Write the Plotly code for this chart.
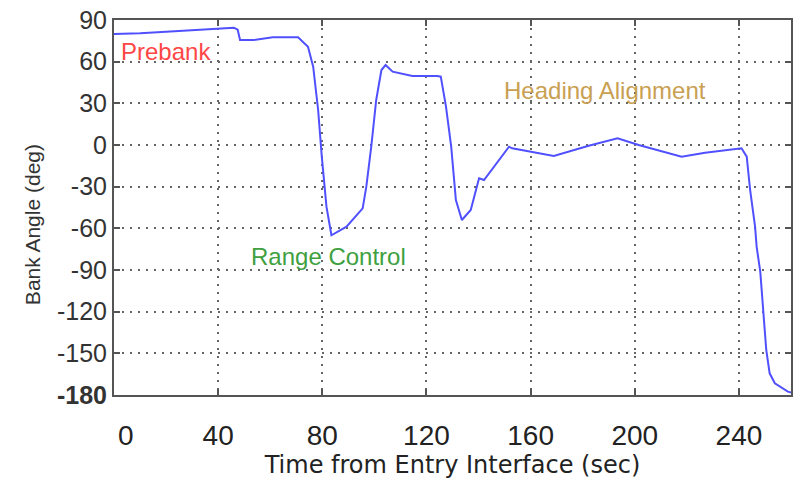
import plotly.graph_objects as go

# Bank angle profile during entry
time_s = [0, 10, 20, 32, 41.5, 46, 47.5, 48.4, 53.5, 61, 70.7, 74.5, 76.5, 78.4, 79.8,
          81.6, 83.5, 89.3, 95.5, 96.9, 98.8, 100.7, 102.7, 104.3, 107, 114.6, 124.2,
          125.5, 127.5, 129.5, 131.3, 133.6, 137, 140.2, 142.1, 151.7, 152.9, 168.9,
          182.3, 193.4, 201.5, 218, 227, 241, 243, 244.3, 246.2, 246.8, 248.2, 249.3,
          250.5, 251.8, 253.8, 258.8, 260.5]
bank_deg = [80, 80.5, 81.6, 83, 84, 84.5, 83, 75.6, 75.6, 77.5, 77.5, 70.8, 56.4, 25.2, -8.4,
            -44.4, -65, -58.8, -45.6, -30, -1.2, 32.4, 54, 57.6, 52.8, 49.7, 49.7,
            49.2, 27.6, -1.2, -39.6, -54, -46.8, -24, -25.2, -1.2, -2.4, -7.9,
            -0.5, 4.8, 0, -8.4, -5.5, -2.4, -8.4, -32.4, -58.8, -73.2, -91.2, -121.2,
            -147.6, -164.4, -171.6, -177.6, -178.5]

x_ticks = [0, 40, 80, 120, 160, 200, 240]
x_tick_text = ["\u00a0\u00a0\u00a00", "40", "80", "120", "160", "200", "240"]
y_ticks = [90, 60, 30, 0, -30, -60, -90, -120, -150, -180]
y_tick_text = ["90", "60", "30", "0", "-30", "-60", "-90", "-120", "-150", "<b>-180</b>"]

phase_labels = ["Prebank", "Range Control", "Heading Alignment"]
phase_x = [20, 82.5, 188.5]
phase_y = [67.5, -80.5, 39.5]
phase_colors = ["#ff4646", "#40a040", "#c9a052"]

SANS = "Liberation Sans, Arial, sans-serif"

fig = go.Figure()
fig.add_trace(go.Scatter(x=time_s, y=bank_deg, mode="lines",
                         line=dict(color="#5050ff", width=2), showlegend=False))

for txt, px, py, col in zip(phase_labels, phase_x, phase_y, phase_colors):
    fig.add_annotation(x=px, y=py, text=txt, showarrow=False,
                       font=dict(family=SANS, size=24, color=col))

# y-axis title placed as a rotated annotation
fig.add_annotation(xref="paper", yref="paper", x=0, y=0.453, xshift=-82,
                   text="Bank Angle (deg)", textangle=-90, showarrow=False,
                   xanchor="center", yanchor="middle",
                   font=dict(family=SANS, size=21, color="#333333"))

axis_common = dict(
    showline=True, linecolor="#555555", linewidth=2,
    ticks="inside", ticklen=6, tickwidth=2, tickcolor="#555555",
    mirror="ticks",
    showgrid=True, gridcolor="#666666", gridwidth=1.6, griddash="2px,6px",
    zeroline=False,
)

fig.update_xaxes(range=[0, 260], tickvals=x_ticks, ticktext=x_tick_text,
                 tickfont=dict(family=SANS, size=28, color="#222222"),
                 ticklabelstandoff=14,
                 title=dict(text="Time from Entry Interface (sec)",
                            font=dict(family="DejaVu Sans, sans-serif", size=24, color="#222222"),
                            standoff=4),
                 **axis_common)
fig.update_yaxes(range=[-180, 90], tickvals=y_ticks, ticktext=y_tick_text,
                 tickfont=dict(family=SANS, size=25, color="#333333"),
                 **axis_common)

fig.update_layout(width=793, height=482,
                  margin=dict(l=114, r=0, t=20, b=87),
                  paper_bgcolor="white", plot_bgcolor="white")

fig.write_html("out.html")
